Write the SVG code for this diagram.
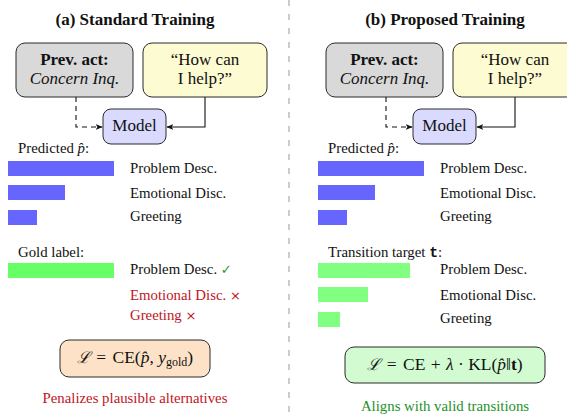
<svg xmlns="http://www.w3.org/2000/svg" width="567" height="414" viewBox="0 0 567 414">
<style>
text{font-family:"Liberation Serif","DejaVu Serif",serif;fill:#111}
.title{font-size:17px;font-weight:bold}
.box{stroke:#2a2a2a;stroke-width:1}
.bt{font-size:17px}
.lbl{font-size:14.8px}
.red{fill:#c0161e}
.grn{fill:#23912a}
.conn{fill:none;stroke:#111;stroke-width:1.1}
.math{font-size:17.5px}
</style>
<defs>
<marker id="ah" viewBox="0 0 10 10" refX="9" refY="5" markerWidth="7" markerHeight="7" markerUnits="userSpaceOnUse" orient="auto">
<path d="M0,1 L10,5 L0,9 L2.5,5 Z" fill="#111"/>
</marker>
</defs>
<line x1="289" y1="0" x2="289" y2="414" stroke="#aaaaaa" stroke-width="1.2" stroke-dasharray="6 8"/>

<!-- Left panel -->
<text class="title" x="135" y="25" text-anchor="middle">(a) Standard Training</text>
<g id="a-prev">
<rect class="box" x="16" y="43" width="117" height="54" rx="9" fill="#d9d9d9"/>
<text class="bt" x="74.5" y="64.5" text-anchor="middle" font-weight="bold">Prev.  act:</text>
<text class="bt" x="74.5" y="83.5" text-anchor="middle" font-style="italic">Concern Inq.</text>
</g>
<g id="a-utt">
<rect class="box" x="143" y="43" width="124" height="54" rx="9" fill="#fdfbd2"/>
<text class="bt" x="205" y="64.5" text-anchor="middle">“How can</text>
<text class="bt" x="205" y="83.5" text-anchor="middle">I help?”</text>
</g>
<g id="a-model">
<rect class="box" x="103" y="109" width="63" height="35" rx="8" fill="#dadaff"/>
<text class="bt" x="134.5" y="131" text-anchor="middle">Model</text>
</g>
<g id="a-connectors">
<path class="conn" d="M76,97 V127 H102" stroke-dasharray="5 4" marker-end="url(#ah)"/>
<path class="conn" d="M205,97 V127 H167" marker-end="url(#ah)"/>
</g>
<g id="a-pred">
<text class="lbl" x="18" y="153">Predicted <tspan font-style="italic">p̂</tspan>:</text>
<rect x="8" y="161" width="106" height="15" fill="#6666ff"/>
<rect x="8" y="185" width="57" height="15" fill="#6666ff"/>
<rect x="8" y="210" width="29" height="15" fill="#6666ff"/>
<text class="lbl" x="130" y="173">Problem Desc.</text>
<text class="lbl" x="130" y="198">Emotional Disc.</text>
<text class="lbl" x="130" y="221">Greeting</text>
</g>
<g id="a-gold">
<text class="lbl" x="18" y="257">Gold label:</text>
<rect x="8" y="263" width="106" height="15" fill="#66ff66"/>
<text class="lbl" x="130" y="274">Problem Desc. <tspan style="fill:#2a9a2a;font-family:'DejaVu Sans',sans-serif" font-size="13">✓</tspan></text>
<text class="lbl red" x="130" y="300">Emotional Disc. <tspan style="font-family:'DejaVu Sans',sans-serif" font-size="13">×</tspan></text>
<text class="lbl red" x="130" y="320">Greeting <tspan style="font-family:'DejaVu Sans',sans-serif" font-size="13">×</tspan></text>
</g>
<g id="a-loss">
<rect class="box" x="60" y="340" width="150" height="37" rx="9" fill="#fde2c8"/>
<text class="math" x="135" y="363" text-anchor="middle"><tspan font-style="italic" style="font-family:'DejaVu Serif',serif" font-size="16">ℒ</tspan> <tspan dx="2">=</tspan> <tspan dx="2">CE(</tspan><tspan font-style="italic">p̂</tspan>, <tspan font-style="italic">y</tspan><tspan font-size="12" dy="3">gold</tspan><tspan dy="-3">)</tspan></text>
</g>
<text class="lbl red" x="135" y="403" text-anchor="middle">Penalizes plausible alternatives</text>

<!-- Right panel -->
<text class="title" x="445" y="25" text-anchor="middle">(b) Proposed Training</text>
<g id="b-prev">
<rect class="box" x="326" y="43" width="117" height="54" rx="9" fill="#d9d9d9"/>
<text class="bt" x="384.5" y="64.5" text-anchor="middle" font-weight="bold">Prev.  act:</text>
<text class="bt" x="384.5" y="83.5" text-anchor="middle" font-style="italic">Concern Inq.</text>
</g>
<g id="b-utt">
<rect class="box" x="453" y="43" width="124" height="54" rx="9" fill="#fdfbd2"/>
<text class="bt" x="515" y="64.5" text-anchor="middle">“How can</text>
<text class="bt" x="515" y="83.5" text-anchor="middle">I help?”</text>
</g>
<g id="b-model">
<rect class="box" x="413" y="109" width="63" height="35" rx="8" fill="#dadaff"/>
<text class="bt" x="444.5" y="131" text-anchor="middle">Model</text>
</g>
<g id="b-connectors">
<path class="conn" d="M386,97 V127 H412" stroke-dasharray="5 4" marker-end="url(#ah)"/>
<path class="conn" d="M515,97 V127 H477" marker-end="url(#ah)"/>
</g>
<g id="b-pred">
<text class="lbl" x="328" y="153">Predicted <tspan font-style="italic">p̂</tspan>:</text>
<rect x="318" y="161" width="106" height="15" fill="#6666ff"/>
<rect x="318" y="185" width="57" height="15" fill="#6666ff"/>
<rect x="318" y="210" width="29" height="15" fill="#6666ff"/>
<text class="lbl" x="440" y="173">Problem Desc.</text>
<text class="lbl" x="440" y="198">Emotional Disc.</text>
<text class="lbl" x="440" y="221">Greeting</text>
</g>
<g id="b-target">
<text class="lbl" x="328" y="257">Transition target <tspan style="font-family:'Liberation Mono',monospace" font-weight="bold">t</tspan>:</text>
<rect x="318" y="263" width="92" height="15" fill="#80ff80"/>
<rect x="318" y="287" width="50" height="15" fill="#80ff80"/>
<rect x="318" y="312" width="22" height="15" fill="#80ff80"/>
<text class="lbl" x="440" y="274">Problem Desc.</text>
<text class="lbl" x="440" y="300">Emotional Disc.</text>
<text class="lbl" x="440" y="323">Greeting</text>
</g>
<g id="b-loss">
<rect class="box" x="345" y="347" width="200" height="36" rx="9" fill="#d2fbd2"/>
<text class="math" x="445" y="370" text-anchor="middle"><tspan font-style="italic" style="font-family:'DejaVu Serif',serif" font-size="16">ℒ</tspan> <tspan dx="2">=</tspan> <tspan dx="2">CE</tspan> <tspan dx="1">+</tspan> <tspan dx="1" font-style="italic">λ</tspan> · KL(<tspan font-style="italic">p̂</tspan>‖<tspan font-weight="bold">t</tspan>)</text>
</g>
<text class="lbl grn" x="445" y="411" text-anchor="middle">Aligns with valid transitions</text>
</svg>
